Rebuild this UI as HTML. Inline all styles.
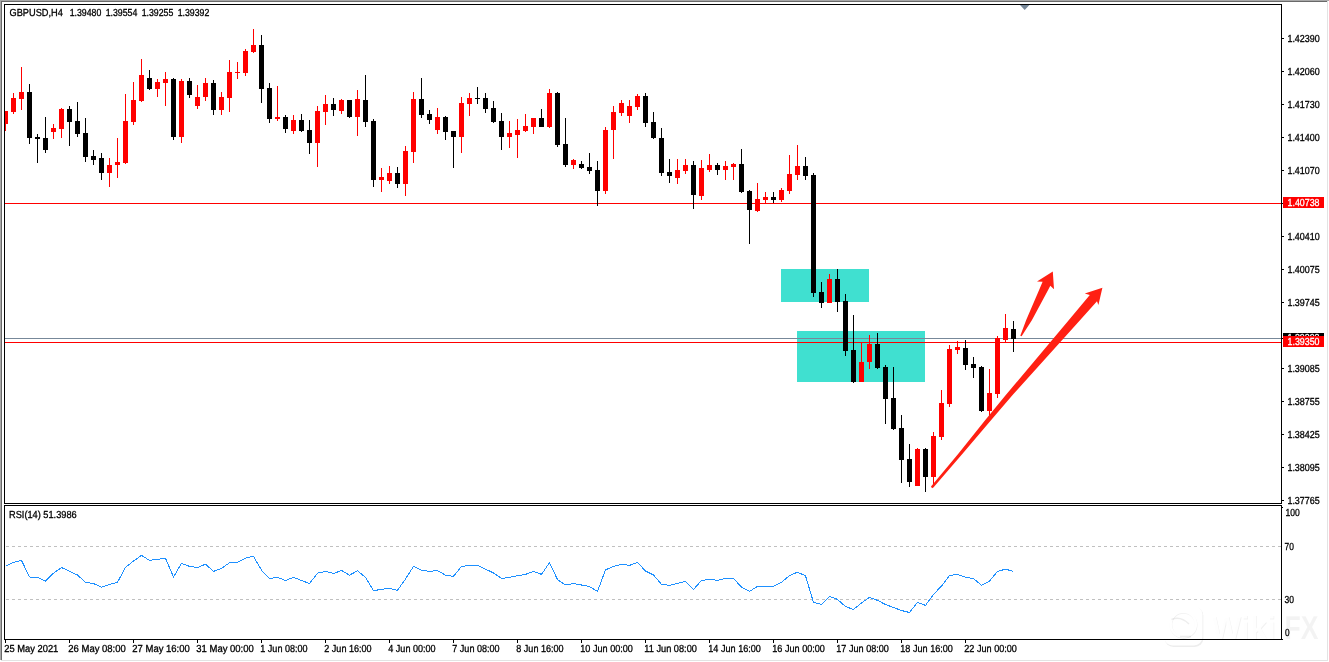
<!DOCTYPE html>
<html><head><meta charset="utf-8"><title>GBPUSD,H4</title>
<style>
html,body{margin:0;padding:0;background:#fff;}
body{width:1329px;height:662px;overflow:hidden;}
svg{display:block;}
text{font-family:"Liberation Sans",sans-serif;font-size:10.2px;fill:#000;text-rendering:geometricPrecision;stroke:#000;stroke-width:0.3px;}
.w{fill:#fff;stroke:#fff;}
</style></head><body>
<svg width="1329" height="662" viewBox="0 0 1329 662">
<rect width="1329" height="662" fill="#fff"/>
<g shape-rendering="crispEdges">
<!-- sunken window frame -->
<rect x="0" y="0" width="1329" height="1" fill="#a8a8a8"/>
<rect x="0" y="0" width="1" height="660" fill="#a8a8a8"/>
<rect x="1" y="1" width="1327" height="1" fill="#696969"/>
<rect x="1" y="1" width="1" height="659" fill="#696969"/>
<rect x="1327" y="1" width="1" height="660" fill="#e3e3e3"/>
<rect x="1" y="660" width="1327" height="1" fill="#e3e3e3"/>
</g>
<g>
<rect x="1164.8" y="607" width="38.5" height="40" rx="8.5" fill="#000" opacity="0.07"/>
<rect x="1164" y="606" width="38.5" height="39.6" rx="8.5" fill="#fff"/>
<circle cx="1183.6" cy="625" r="12.6" fill="none" stroke="#000" stroke-width="2.6" opacity="0.06"/>
<circle cx="1183.2" cy="624.2" r="12.6" fill="none" stroke="#fff" stroke-width="2.6"/>
<path d="M1171.5 619.5q9-4 17.5 4.5" fill="none" stroke="#000" stroke-width="1.6" opacity="0.07"/>
<path d="M1180 636.6h11" fill="none" stroke="#000" stroke-width="1.8" opacity="0.07"/>
<text style="font-size:33px;font-weight:bold;stroke:none" fill="#000" opacity="0.05"><tspan x="1212" y="639.9" textLength="64.5" lengthAdjust="spacingAndGlyphs">Wiki</tspan></text>
<text style="font-size:33px;font-weight:bold;stroke:none"><tspan x="1211.2" y="639" textLength="64.5" lengthAdjust="spacingAndGlyphs" fill="#fff" fill-opacity="0.93">Wiki</tspan><tspan x="1284.4" y="639" textLength="34" lengthAdjust="spacingAndGlyphs" fill="#000" fill-opacity="0.048">FX</tspan></text>
</g>
<g shape-rendering="crispEdges">
<!-- zones -->
<rect x="781" y="269" width="88" height="33" fill="#40e0d0"/>
<rect x="797" y="331" width="128" height="51" fill="#40e0d0"/>
<!-- horizontal levels -->
<rect x="5" y="203" width="1276" height="1" fill="#ff0000"/>
<rect x="5" y="338" width="1276" height="1" fill="#778899"/>
<rect x="5" y="342" width="1276" height="1" fill="#ff0000"/>

<path fill="#ff0000" d="M5 111h1v20h-1zM5 111h3v13h-3z"/>
<path fill="#ff0000" d="M13 93h1v21h-1zM11 98h5v14h-5z"/>
<path fill="#ff0000" d="M21 67h1v43h-1zM19 92h5v7h-5z"/>
<path fill="#000000" d="M29 84h1v60h-1zM27 92h5v46h-5z"/>
<path fill="#000000" d="M37 134h1v29h-1zM35 137h5v2h-5z"/>
<path fill="#000000" d="M45 117h1v36h-1zM43 138h5v12h-5z"/>
<path fill="#ff0000" d="M53 124h1v15h-1zM51 128h5v4h-5z"/>
<path fill="#ff0000" d="M61 108h1v30h-1zM59 109h5v20h-5z"/>
<path fill="#000000" d="M69 106h1v40h-1zM67 109h5v13h-5z"/>
<path fill="#000000" d="M77 102h1v35h-1zM75 121h5v13h-5z"/>
<path fill="#000000" d="M85 118h1v44h-1zM83 133h5v24h-5z"/>
<path fill="#000000" d="M93 150h1v15h-1zM91 156h5v4h-5z"/>
<path fill="#000000" d="M101 153h1v27h-1zM99 158h5v15h-5z"/>
<path fill="#ff0000" d="M109 158h1v29h-1zM107 165h5v8h-5z"/>
<path fill="#ff0000" d="M117 138h1v40h-1zM115 162h5v3h-5z"/>
<path fill="#ff0000" d="M125 94h1v70h-1zM123 121h5v42h-5z"/>
<path fill="#ff0000" d="M133 82h1v43h-1zM131 100h5v22h-5z"/>
<path fill="#ff0000" d="M141 59h1v43h-1zM139 75h5v26h-5z"/>
<path fill="#000000" d="M149 70h1v20h-1zM147 78h5v11h-5z"/>
<path fill="#ff0000" d="M157 79h1v18h-1zM155 82h5v7h-5z"/>
<path fill="#ff0000" d="M165 72h1v34h-1zM163 79h5v4h-5z"/>
<path fill="#000000" d="M173 78h1v62h-1zM171 79h5v58h-5z"/>
<path fill="#ff0000" d="M181 79h1v64h-1zM179 81h5v56h-5z"/>
<path fill="#000000" d="M189 78h1v20h-1zM187 81h5v14h-5z"/>
<path fill="#ff0000" d="M197 85h1v24h-1zM195 97h5v9h-5z"/>
<path fill="#ff0000" d="M205 78h1v23h-1zM203 83h5v14h-5z"/>
<path fill="#000000" d="M213 80h1v35h-1zM211 83h5v27h-5z"/>
<path fill="#ff0000" d="M221 92h1v23h-1zM219 97h5v13h-5z"/>
<path fill="#ff0000" d="M229 60h1v52h-1zM227 72h5v26h-5z"/>
<path fill="#ff0000" d="M237 62h1v17h-1zM235 72h5v1h-5z"/>
<path fill="#ff0000" d="M245 49h1v27h-1zM243 51h5v22h-5z"/>
<path fill="#ff0000" d="M253 29h1v24h-1zM251 45h5v7h-5z"/>
<path fill="#000000" d="M261 35h1v68h-1zM259 45h5v44h-5z"/>
<path fill="#000000" d="M269 83h1v40h-1zM267 88h5v31h-5z"/>
<path fill="#ff0000" d="M277 86h1v35h-1zM275 117h5v2h-5z"/>
<path fill="#000000" d="M285 115h1v18h-1zM283 117h5v12h-5z"/>
<path fill="#ff0000" d="M293 115h1v19h-1zM291 120h5v11h-5z"/>
<path fill="#000000" d="M301 114h1v18h-1zM299 120h5v11h-5z"/>
<path fill="#000000" d="M309 120h1v34h-1zM307 130h5v13h-5z"/>
<path fill="#ff0000" d="M317 106h1v61h-1zM315 111h5v32h-5z"/>
<path fill="#ff0000" d="M325 95h1v30h-1zM323 104h5v8h-5z"/>
<path fill="#000000" d="M333 98h1v18h-1zM331 104h5v6h-5z"/>
<path fill="#ff0000" d="M341 99h1v15h-1zM339 100h5v11h-5z"/>
<path fill="#000000" d="M349 100h1v18h-1zM347 100h5v17h-5z"/>
<path fill="#ff0000" d="M357 90h1v46h-1zM355 99h5v18h-5z"/>
<path fill="#000000" d="M365 75h1v52h-1zM363 100h5v22h-5z"/>
<path fill="#000000" d="M373 119h1v68h-1zM371 121h5v59h-5z"/>
<path fill="#ff0000" d="M381 168h1v24h-1zM379 177h5v3h-5z"/>
<path fill="#ff0000" d="M389 166h1v18h-1zM387 173h5v8h-5z"/>
<path fill="#000000" d="M397 167h1v21h-1zM395 173h5v11h-5z"/>
<path fill="#ff0000" d="M405 146h1v50h-1zM403 151h5v33h-5z"/>
<path fill="#ff0000" d="M413 92h1v71h-1zM411 99h5v53h-5z"/>
<path fill="#000000" d="M421 78h1v40h-1zM419 99h5v16h-5z"/>
<path fill="#000000" d="M429 110h1v14h-1zM427 114h5v6h-5z"/>
<path fill="#ff0000" d="M437 108h1v26h-1zM435 117h5v13h-5z"/>
<path fill="#000000" d="M445 116h1v24h-1zM443 117h5v15h-5z"/>
<path fill="#000000" d="M453 131h1v37h-1zM451 131h5v6h-5z"/>
<path fill="#ff0000" d="M461 97h1v56h-1zM459 103h5v34h-5z"/>
<path fill="#ff0000" d="M469 93h1v23h-1zM467 98h5v6h-5z"/>
<path fill="#000000" d="M477 87h1v17h-1zM475 98h5v1h-5z"/>
<path fill="#000000" d="M485 93h1v20h-1zM483 98h5v11h-5z"/>
<path fill="#000000" d="M493 101h1v22h-1zM491 108h5v14h-5z"/>
<path fill="#000000" d="M501 113h1v37h-1zM499 121h5v16h-5z"/>
<path fill="#ff0000" d="M509 121h1v27h-1zM507 133h5v4h-5z"/>
<path fill="#ff0000" d="M517 119h1v39h-1zM515 130h5v5h-5z"/>
<path fill="#ff0000" d="M525 114h1v18h-1zM523 126h5v5h-5z"/>
<path fill="#ff0000" d="M533 118h1v16h-1zM531 118h5v9h-5z"/>
<path fill="#000000" d="M541 109h1v18h-1zM539 118h5v9h-5z"/>
<path fill="#ff0000" d="M549 89h1v39h-1zM547 93h5v34h-5z"/>
<path fill="#000000" d="M557 92h1v55h-1zM555 93h5v52h-5z"/>
<path fill="#000000" d="M565 118h1v49h-1zM563 144h5v21h-5z"/>
<path fill="#ff0000" d="M573 159h1v10h-1zM571 160h5v5h-5z"/>
<path fill="#000000" d="M581 161h1v8h-1zM579 164h5v4h-5z"/>
<path fill="#000000" d="M589 153h1v21h-1zM587 167h5v4h-5z"/>
<path fill="#000000" d="M597 161h1v45h-1zM595 170h5v21h-5z"/>
<path fill="#ff0000" d="M605 127h1v67h-1zM603 130h5v61h-5z"/>
<path fill="#ff0000" d="M613 106h1v53h-1zM611 112h5v18h-5z"/>
<path fill="#ff0000" d="M621 100h1v16h-1zM619 103h5v10h-5z"/>
<path fill="#ff0000" d="M629 100h1v23h-1zM627 106h5v10h-5z"/>
<path fill="#ff0000" d="M637 94h1v16h-1zM635 96h5v11h-5z"/>
<path fill="#000000" d="M645 93h1v34h-1zM643 96h5v27h-5z"/>
<path fill="#000000" d="M653 112h1v27h-1zM651 122h5v16h-5z"/>
<path fill="#000000" d="M661 128h1v48h-1zM659 138h5v35h-5z"/>
<path fill="#000000" d="M669 159h1v24h-1zM667 172h5v4h-5z"/>
<path fill="#ff0000" d="M677 159h1v25h-1zM675 170h5v8h-5z"/>
<path fill="#ff0000" d="M685 159h1v15h-1zM683 165h5v6h-5z"/>
<path fill="#000000" d="M693 161h1v48h-1zM691 165h5v30h-5z"/>
<path fill="#ff0000" d="M701 160h1v40h-1zM699 168h5v28h-5z"/>
<path fill="#ff0000" d="M709 154h1v18h-1zM707 165h5v5h-5z"/>
<path fill="#000000" d="M717 163h1v12h-1zM715 165h5v5h-5z"/>
<path fill="#ff0000" d="M725 161h1v19h-1zM723 166h5v4h-5z"/>
<path fill="#ff0000" d="M733 163h1v17h-1zM731 164h5v3h-5z"/>
<path fill="#000000" d="M741 149h1v44h-1zM739 164h5v28h-5z"/>
<path fill="#000000" d="M749 190h1v54h-1zM747 191h5v19h-5z"/>
<path fill="#ff0000" d="M757 183h1v29h-1zM755 199h5v12h-5z"/>
<path fill="#ff0000" d="M765 192h1v11h-1zM763 197h5v3h-5z"/>
<path fill="#000000" d="M773 192h1v11h-1zM771 197h5v3h-5z"/>
<path fill="#ff0000" d="M781 188h1v14h-1zM779 190h5v10h-5z"/>
<path fill="#ff0000" d="M789 155h1v39h-1zM787 174h5v17h-5z"/>
<path fill="#ff0000" d="M797 145h1v35h-1zM795 166h5v9h-5z"/>
<path fill="#000000" d="M805 157h1v23h-1zM803 166h5v10h-5z"/>
<path fill="#000000" d="M813 173h1v124h-1zM811 175h5v118h-5z"/>
<path fill="#000000" d="M821 282h1v26h-1zM819 292h5v11h-5z"/>
<path fill="#ff0000" d="M829 274h1v29h-1zM827 279h5v24h-5z"/>
<path fill="#000000" d="M837 269h1v43h-1zM835 279h5v23h-5z"/>
<path fill="#000000" d="M845 294h1v62h-1zM843 301h5v50h-5z"/>
<path fill="#000000" d="M853 315h1v68h-1zM851 350h5v32h-5z"/>
<path fill="#ff0000" d="M861 342h1v40h-1zM859 362h5v20h-5z"/>
<path fill="#ff0000" d="M869 335h1v34h-1zM867 344h5v18h-5z"/>
<path fill="#000000" d="M877 333h1v36h-1zM875 344h5v24h-5z"/>
<path fill="#000000" d="M885 365h1v59h-1zM883 367h5v32h-5z"/>
<path fill="#000000" d="M893 367h1v63h-1zM891 398h5v31h-5z"/>
<path fill="#000000" d="M901 415h1v68h-1zM899 428h5v32h-5z"/>
<path fill="#000000" d="M909 444h1v43h-1zM907 459h5v23h-5z"/>
<path fill="#ff0000" d="M917 448h1v38h-1zM915 449h5v37h-5z"/>
<path fill="#000000" d="M925 448h1v44h-1zM923 449h5v28h-5z"/>
<path fill="#ff0000" d="M933 432h1v53h-1zM931 436h5v41h-5z"/>
<path fill="#ff0000" d="M941 390h1v50h-1zM939 403h5v34h-5z"/>
<path fill="#ff0000" d="M949 345h1v62h-1zM947 349h5v55h-5z"/>
<path fill="#ff0000" d="M957 341h1v13h-1zM955 347h5v3h-5z"/>
<path fill="#000000" d="M965 340h1v30h-1zM963 348h5v17h-5z"/>
<path fill="#000000" d="M973 357h1v21h-1zM971 364h5v4h-5z"/>
<path fill="#000000" d="M981 366h1v46h-1zM979 367h5v44h-5z"/>
<path fill="#ff0000" d="M989 369h1v47h-1zM987 393h5v18h-5z"/>
<path fill="#ff0000" d="M997 336h1v62h-1zM995 338h5v56h-5z"/>
<path fill="#ff0000" d="M1005 314h1v28h-1zM1003 328h5v12h-5z"/>
<path fill="#000000" d="M1013 321h1v31h-1zM1011 329h5v10h-5z"/>
</g>
<g shape-rendering="crispEdges" fill="#000">
<rect x="4" y="4" width="1278" height="1"/>
<rect x="4" y="4" width="1" height="500"/>
<rect x="4" y="503" width="1278" height="1"/>
<rect x="1281" y="4" width="1" height="500"/>
<rect x="4" y="505" width="1278" height="1"/>
<rect x="4" y="505" width="1" height="135"/>
<rect x="4" y="639" width="1278" height="1"/>
<rect x="1281" y="505" width="1" height="135"/>

<rect x="1282" y="38" width="2" height="1"/>
<rect x="1282" y="71" width="2" height="1"/>
<rect x="1282" y="104" width="2" height="1"/>
<rect x="1282" y="137" width="2" height="1"/>
<rect x="1282" y="170" width="2" height="1"/>
<rect x="1282" y="236" width="2" height="1"/>
<rect x="1282" y="269" width="2" height="1"/>
<rect x="1282" y="302" width="2" height="1"/>
<rect x="1282" y="368" width="2" height="1"/>
<rect x="1282" y="401" width="2" height="1"/>
<rect x="1282" y="434" width="2" height="1"/>
<rect x="1282" y="467" width="2" height="1"/>
<rect x="1282" y="500" width="2" height="1"/>
<rect x="1282" y="203" width="2" height="1"/><rect x="1282" y="338" width="2" height="1"/><rect x="1282" y="507" width="1" height="1"/><rect x="1282" y="639" width="1" height="1"/>
<rect x="5" y="640" width="1" height="3"/>
<rect x="69" y="640" width="1" height="3"/>
<rect x="133" y="640" width="1" height="3"/>
<rect x="197" y="640" width="1" height="3"/>
<rect x="261" y="640" width="1" height="3"/>
<rect x="325" y="640" width="1" height="3"/>
<rect x="389" y="640" width="1" height="3"/>
<rect x="453" y="640" width="1" height="3"/>
<rect x="517" y="640" width="1" height="3"/>
<rect x="581" y="640" width="1" height="3"/>
<rect x="645" y="640" width="1" height="3"/>
<rect x="709" y="640" width="1" height="3"/>
<rect x="773" y="640" width="1" height="3"/>
<rect x="837" y="640" width="1" height="3"/>
<rect x="901" y="640" width="1" height="3"/>
<rect x="965" y="640" width="1" height="3"/>
</g>
<g shape-rendering="crispEdges" stroke="#c0c0c0" stroke-width="1" stroke-dasharray="3 3">
<line x1="6" y1="546.5" x2="1281" y2="546.5"/>
<line x1="6" y1="599.5" x2="1281" y2="599.5"/>
</g>
<polyline points="5.5,566.4 13.5,562.4 21.5,560.4 29.5,577.0 37.5,577.3 45.5,581.1 53.5,573.2 61.5,567.5 69.5,571.3 77.5,575.0 85.5,582.3 93.5,583.5 101.5,587.3 109.5,584.3 117.5,582.3 125.5,567.2 133.5,561.1 141.5,555.4 149.5,560.4 157.5,559.3 165.5,558.4 173.5,577.0 181.5,563.4 189.5,566.4 197.5,567.5 205.5,564.2 213.5,571.4 221.5,568.4 229.5,562.7 237.5,562.4 245.5,558.1 253.5,556.3 261.5,570.2 269.5,578.5 277.5,577.3 285.5,580.5 293.5,577.3 301.5,580.5 309.5,583.5 317.5,573.2 325.5,571.4 333.5,573.5 341.5,570.5 349.5,575.2 357.5,570.7 365.5,577.5 373.5,590.6 381.5,589.4 389.5,588.3 397.5,590.3 405.5,579.0 413.5,566.4 421.5,570.2 429.5,571.4 437.5,570.5 445.5,575.2 453.5,576.3 461.5,566.4 469.5,565.4 477.5,565.4 485.5,569.2 493.5,572.9 501.5,578.5 509.5,577.3 517.5,575.8 525.5,574.4 533.5,571.4 541.5,574.4 549.5,562.7 557.5,579.6 565.5,585.0 573.5,583.5 581.5,585.0 589.5,586.5 597.5,591.4 605.5,569.9 613.5,566.4 621.5,564.2 629.5,565.4 637.5,562.4 645.5,571.0 653.5,575.0 661.5,584.3 669.5,585.3 677.5,583.5 685.5,581.2 693.5,589.4 701.5,580.5 709.5,579.3 717.5,580.3 725.5,578.5 733.5,578.5 741.5,587.1 749.5,591.4 757.5,586.4 765.5,586.4 773.5,586.4 781.5,582.3 789.5,575.5 797.5,572.2 805.5,575.8 813.5,602.4 821.5,604.5 829.5,596.3 837.5,599.4 845.5,606.5 853.5,609.5 861.5,603.0 869.5,597.4 877.5,600.4 885.5,604.5 893.5,607.5 901.5,610.5 909.5,612.5 917.5,602.4 925.5,605.4 933.5,594.4 941.5,586.1 949.5,575.5 957.5,574.4 965.5,577.3 973.5,578.5 981.5,585.3 989.5,581.1 997.5,571.4 1005.5,569.2 1013.5,571.4" fill="none" stroke="#1e90ff" stroke-width="1" shape-rendering="crispEdges"/>
<path d="M1020 5h9.4l-4.7 5z" fill="#778899"/>
<text x="1287.4" y="42" textLength="32.4" lengthAdjust="spacingAndGlyphs">1.42390</text>
<text x="1287.4" y="75" textLength="32.4" lengthAdjust="spacingAndGlyphs">1.42060</text>
<text x="1287.4" y="108" textLength="32.4" lengthAdjust="spacingAndGlyphs">1.41730</text>
<text x="1287.4" y="141" textLength="32.4" lengthAdjust="spacingAndGlyphs">1.41400</text>
<text x="1287.4" y="174" textLength="32.4" lengthAdjust="spacingAndGlyphs">1.41070</text>
<text x="1287.4" y="240" textLength="32.4" lengthAdjust="spacingAndGlyphs">1.40410</text>
<text x="1287.4" y="273" textLength="32.4" lengthAdjust="spacingAndGlyphs">1.40075</text>
<text x="1287.4" y="306" textLength="32.4" lengthAdjust="spacingAndGlyphs">1.39745</text>
<text x="1287.4" y="372" textLength="32.4" lengthAdjust="spacingAndGlyphs">1.39085</text>
<text x="1287.4" y="405" textLength="32.4" lengthAdjust="spacingAndGlyphs">1.38755</text>
<text x="1287.4" y="438" textLength="32.4" lengthAdjust="spacingAndGlyphs">1.38425</text>
<text x="1287.4" y="471" textLength="32.4" lengthAdjust="spacingAndGlyphs">1.38095</text>
<text x="1287.4" y="504" textLength="32.4" lengthAdjust="spacingAndGlyphs">1.37765</text>
<g shape-rendering="crispEdges"><rect x="1283" y="197" width="41" height="11" fill="#ff0000"/>
<rect x="1283" y="333" width="41" height="11" fill="#000"/>
</g>
<text class="w" x="1287.5" y="341.2" textLength="32" lengthAdjust="spacingAndGlyphs">1.39392</text>
<rect x="1283" y="336" width="41" height="11" fill="#ff0000" shape-rendering="crispEdges"/>
<text class="w" x="1287.5" y="206.2" textLength="32" lengthAdjust="spacingAndGlyphs">1.40738</text>
<text class="w" x="1287.5" y="345.2" textLength="32" lengthAdjust="spacingAndGlyphs">1.39350</text>
<text x="1285.5" y="516.3" textLength="14.3" lengthAdjust="spacingAndGlyphs">100</text>
<text x="1284.5" y="550" textLength="9.4" lengthAdjust="spacingAndGlyphs">70</text>
<text x="1284.5" y="603" textLength="9.5" lengthAdjust="spacingAndGlyphs">30</text>
<text x="1285.1" y="636.3" textLength="4.6" lengthAdjust="spacingAndGlyphs">0</text>

<text x="9.5" y="16" textLength="53.3" lengthAdjust="spacingAndGlyphs">GBPUSD,H4</text>
<text x="69.7" y="16" textLength="31.6" lengthAdjust="spacingAndGlyphs">1.39480</text>
<text x="105.7" y="16" textLength="31.6" lengthAdjust="spacingAndGlyphs">1.39554</text>
<text x="141.7" y="16" textLength="31.6" lengthAdjust="spacingAndGlyphs">1.39255</text>
<text x="177.7" y="16" textLength="31.6" lengthAdjust="spacingAndGlyphs">1.39392</text>
<text x="9" y="518" textLength="67.7" lengthAdjust="spacingAndGlyphs">RSI(14) 51.3986</text>
<text x="4.3" y="652" textLength="54" lengthAdjust="spacingAndGlyphs">25 May 2021</text>
<text x="68.3" y="652" textLength="57.5" lengthAdjust="spacingAndGlyphs">26 May 08:00</text>
<text x="132.3" y="652" textLength="57.5" lengthAdjust="spacingAndGlyphs">27 May 16:00</text>
<text x="196.3" y="652" textLength="57.5" lengthAdjust="spacingAndGlyphs">31 May 00:00</text>
<text x="260.3" y="652" textLength="47.3" lengthAdjust="spacingAndGlyphs">1 Jun 08:00</text>
<text x="324.3" y="652" textLength="47.3" lengthAdjust="spacingAndGlyphs">2 Jun 16:00</text>
<text x="388.3" y="652" textLength="47.3" lengthAdjust="spacingAndGlyphs">4 Jun 00:00</text>
<text x="452.3" y="652" textLength="47.3" lengthAdjust="spacingAndGlyphs">7 Jun 08:00</text>
<text x="516.3" y="652" textLength="47.3" lengthAdjust="spacingAndGlyphs">8 Jun 16:00</text>
<text x="580.3" y="652" textLength="52.6" lengthAdjust="spacingAndGlyphs">10 Jun 00:00</text>
<text x="644.3" y="652" textLength="52.6" lengthAdjust="spacingAndGlyphs">11 Jun 08:00</text>
<text x="708.3" y="652" textLength="52.6" lengthAdjust="spacingAndGlyphs">14 Jun 16:00</text>
<text x="772.3" y="652" textLength="52.6" lengthAdjust="spacingAndGlyphs">16 Jun 00:00</text>
<text x="836.3" y="652" textLength="52.6" lengthAdjust="spacingAndGlyphs">17 Jun 08:00</text>
<text x="900.3" y="652" textLength="52.6" lengthAdjust="spacingAndGlyphs">18 Jun 16:00</text>
<text x="964.3" y="652" textLength="52.6" lengthAdjust="spacingAndGlyphs">22 Jun 00:00</text>
<g fill="#ff2013">
<path d="M931 486.6L958.1 454L985.3 420L1005.8 395L1068.9 320L1089.8 294.9L1084.8 293.5L1102.4 287.7L1098.4 304.9L1097 301.3L1080.2 320L1012.6 395L991.2 420L962.3 454L933.4 487.6L932 488.2Z"/>
<path d="M1020.3 335.7L1026.2 320L1039.1 290L1042.6 281.8L1037 281.6L1052.8 271.6L1054 289.2L1050.3 285.8L1048.1 290L1032 320L1021.6 336.3Z"/>
</g>
</svg></body></html>
